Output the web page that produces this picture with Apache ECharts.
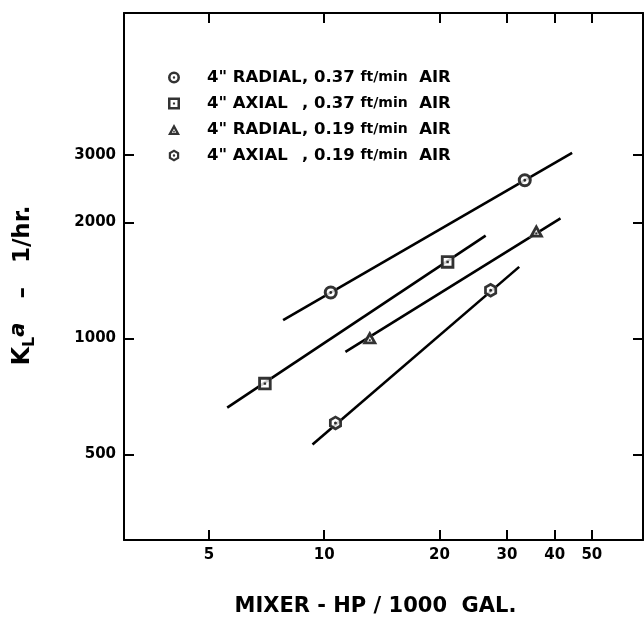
<!DOCTYPE html>
<html>
<head>
<meta charset="utf-8">
<script src="https://cdn.jsdelivr.net/npm/echarts@6/dist/echarts.min.js"></script>
<style>
  html, body { margin: 0; padding: 0; background: #fff; }
  #chart { width: 644px; height: 617px; }
</style>
</head>
<body>
<div id="chart"></div>
<script>
// Axis tick values (log-log paper)
const xTicks = [5, 10, 20, 30, 40, 50];
const yTicks = [500, 1000, 2000, 3000];

// Legend / series names
const seriesNames = [
  '4" RADIAL, 0.37 ft/min AIR',
  '4" AXIAL , 0.37 ft/min AIR',
  '4" RADIAL, 0.19 ft/min AIR',
  '4" AXIAL , 0.19 ft/min AIR'
];

// Measured K_L a values [HP/1000 gal, 1/hr]
const radial037 = [[10.4, 1317], [33.4, 2576]];
const axial037 = [[7.0, 764], [21.0, 1581]];
const radial019 = [[13.15, 1006], [35.8, 1904]];
const axial019 = [[10.7, 604], [27.2, 1335]];

// Correlation lines drawn through each data set (end points)
const radial037Fit = [[7.81, 1116], [44.4, 3034]];
const axial037Fit = [[5.58, 662], [26.4, 1851]];
const radial019Fit = [[11.36, 923], [41.4, 2050]];
const axial019Fit = [[9.32, 531], [32.3, 1535]];

// Open marker shapes with a centre dot (outer shape + reversed inner shape + dot)
const shapes = {
  circle: {
    outer: 'M10,0A10,10 0 1,1 9.99,0Z',
    ring: 'M10,0A10,10 0 1,1 9.99,0Z M10,4.3A5.7,5.7 0 1,0 10.01,4.3Z M10,8A2,2 0 1,1 9.99,8Z'
  },
  square: {
    outer: 'M0,0L20,0L20,20L0,20Z',
    ring: 'M0,0L20,0L20,20L0,20Z M4.2,4.2L4.2,15.8L15.8,15.8L15.8,4.2Z M8.2,8.2L11.8,8.2L11.8,11.8L8.2,11.8Z'
  },
  triangle: {
    outer: 'M10,0L20,18L0,18Z',
    ring: 'M10,0L20,18L0,18Z M10,7.6L6.3,14.3L13.7,14.3Z M8.7,11.1L11.3,11.1L11.3,13.6L8.7,13.6Z'
  },
  hexagon: {
    outer: 'M8.66,0L17.32,5L17.32,15L8.66,20L0,15L0,5Z',
    ring: 'M8.66,0L17.32,5L17.32,15L8.66,20L0,15L0,5Z M8.66,4.2L3.64,7.1L3.64,12.9L8.66,15.8L13.68,12.9L13.68,7.1Z M8.66,8A2,2 0 1,1 8.65,8Z'
  }
};

const groups = [
  { name: seriesNames[0], pts: radial037, fit: radial037Fit, shape: 'circle', size: 14 },
  { name: seriesNames[1], pts: axial037, fit: axial037Fit, shape: 'square', size: 13.5 },
  { name: seriesNames[2], pts: radial019, fit: radial019Fit, shape: 'triangle', size: [15, 13.5] },
  { name: seriesNames[3], pts: axial019, fit: axial019Fit, shape: 'hexagon', size: [13, 15] }
];

const FONT = 'DejaVu Sans';
const INK = '#000';
const axisLineStyle = { color: INK, width: 2 };
const tickStyle = { color: INK, width: 2 };

function logAxis(position, min, max, ticks, showLabels) {
  return {
    type: 'log',
    logBase: 10,
    position: position,
    min: min,
    max: max,
    axisLine: { show: true, onZero: false, lineStyle: axisLineStyle },
    axisTick: { show: true, inside: true, length: 10, customValues: ticks, lineStyle: tickStyle },
    minorTick: { show: false },
    axisLabel: {
      show: showLabels,
      customValues: ticks,
      color: INK,
      fontFamily: FONT,
      fontWeight: 'bold',
      fontSize: 15,
      margin: 8,
      formatter: v => String(Math.round(v))
    },
    splitLine: { show: false },
    minorSplitLine: { show: false }
  };
}

const xBottom = Object.assign(logAxis('bottom', 3, 68, xTicks, true), {
  name: 'MIXER - HP / 1000  GAL.',
  nameLocation: 'middle',
  nameGap: 56,
  nameMoveOverlap: false,
  nameTextStyle: { color: INK, fontFamily: FONT, fontWeight: 'bold', fontSize: 21, padding: [0, 16, 0, 0] }
});
const xTop = logAxis('top', 3, 68, xTicks, false);

const yLeft = Object.assign(logAxis('left', 300, 7000, yTicks, true), {
  name: '{k|K}{l|L}{a|a}{r|   –   1/hr.}',
  nameLocation: 'middle',
  nameRotate: 90,
  nameGap: 86,
  nameMoveOverlap: false,
  nameTextStyle: {
    color: INK, fontFamily: FONT, fontWeight: 'bold', fontSize: 23,
    padding: [0, 18, 0, 0],
    rich: {
      k: { fontFamily: FONT, fontWeight: 'bold', fontSize: 24, color: INK, lineHeight: 30, verticalAlign: 'middle' },
      l: { fontFamily: FONT, fontWeight: 'bold', fontSize: 16, color: INK, lineHeight: 16, verticalAlign: 'bottom' },
      a: { fontFamily: FONT, fontStyle: 'italic', fontSize: 21, color: INK, lineHeight: 24, verticalAlign: 'top' },
      r: { fontFamily: FONT, fontWeight: 'bold', fontSize: 23, color: INK, lineHeight: 30, verticalAlign: 'middle' }
    }
  }
});
const yRight = logAxis('right', 300, 7000, yTicks, false);

const series = [];
groups.forEach(g => {
  series.push({
    type: 'line',
    name: g.name + ' fit',
    data: g.fit,
    symbol: 'none',
    silent: true,
    lineStyle: { color: INK, width: 2.6 },
    z: 2
  });
  series.push({
    type: 'scatter',
    name: g.name + ' fill',
    data: g.pts,
    symbol: 'path://' + shapes[g.shape].outer,
    symbolSize: g.size,
    silent: true,
    itemStyle: { color: '#fff' },
    z: 3
  });
  series.push({
    type: 'scatter',
    name: g.name,
    data: g.pts,
    symbol: 'path://' + shapes[g.shape].ring,
    symbolSize: g.size,
    itemStyle: { color: INK },
    z: 4
  });
});

const legendRich = {
  gap: { width: 22, fontSize: 16, fontFamily: FONT },
  a: { width: 95, fontSize: 16.5, fontFamily: FONT, fontWeight: 'bold', color: INK },
  b: { fontSize: 16.5, fontFamily: FONT, fontWeight: 'bold', color: INK },
  u: { fontSize: 14, fontFamily: FONT, fontWeight: 'bold', color: INK }
};

const option = {
  animation: false,
  backgroundColor: '#fff',
  grid: { left: 124, right: 1, top: 13, bottom: 77, containLabel: false, outerBoundsMode: 'none' },
  xAxis: [xBottom, xTop],
  yAxis: [yLeft, yRight],
  legend: {
    orient: 'vertical',
    left: 163,
    top: 64,
    itemWidth: 12,
    itemHeight: 12,
    itemGap: 9,
    selectedMode: false,
    data: groups.map(g => ({ name: g.name, icon: 'path://' + shapes[g.shape].ring })),
    formatter: name => {
      const i = name.indexOf(',');
      const head = name.slice(0, i).trim();
      const parts = name.slice(i + 1).trim().split(' ');
      return '{gap| }{a|' + head + '}{b|, ' + parts[0] + ' }{u|' + parts[1] + '}{b|  ' + parts[2] + '}';
    },
    textStyle: { fontFamily: FONT, fontWeight: 'bold', fontSize: 16, color: INK, lineHeight: 17, rich: legendRich }
  },
  series: series
};

const chart = echarts.init(document.getElementById('chart'), null, { renderer: 'canvas' });
chart.setOption(option);
</script>
</body>
</html>
